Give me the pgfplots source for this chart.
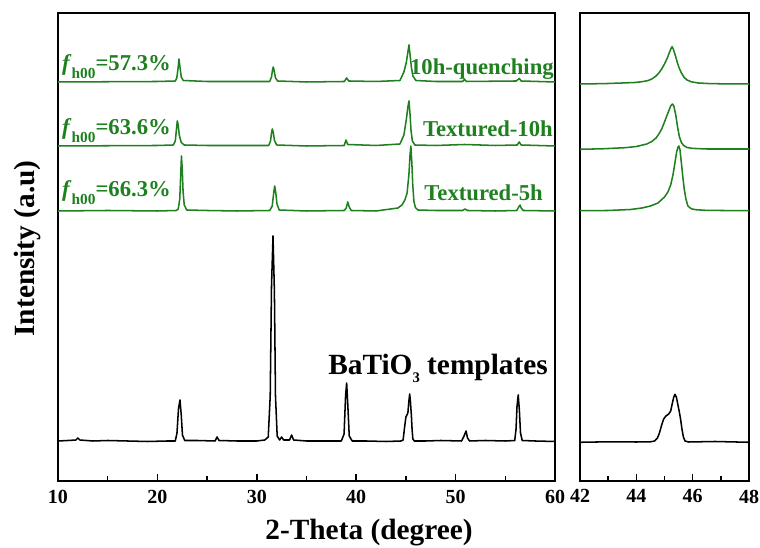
\documentclass[border=0pt]{standalone}
\usepackage{fontspec}
\setmainfont{Liberation Serif}
\usepackage{pgfplots}
\usepackage{pgfplotstable}
\pgfplotsset{compat=1.18}
\definecolor{xgreen}{RGB}{30,128,30}

% ---------- left panel data ----------
\pgfplotstableread{
x y
10.0 40
11.0 40.5
11.8 41
12.0 43
12.2 41
13.5 40
15 40.5
17 40
19 39.5
21.0 40
21.8 40
21.97 48
22.12 72
22.27 81
22.4 66
22.52 46
22.75 40.5
24.0 40.5
25.8 40
26.0 44
26.2 40.5
28 40
30 40
30.8 41
31.15 44
31.35 85
31.48 195
31.63 245
31.77 190
31.88 85
32.05 45
32.3 41
32.5 44
32.7 41
33.3 41
33.5 46
33.7 41
35 40
37 40
38.5 40
38.78 47
38.93 85
39.04 98
39.16 75
39.3 45
39.6 40
41 40
43 39.5
44.5 40
44.72 41
44.87 54
45.0 64
45.2 68
45.3 80
45.38 87
45.45 80
45.55 66
45.62 52
45.7 42
45.85 40
47 40
48.5 40.5
50.6 40
50.85 45
51.05 50
51.2 43
51.4 40
53 40.5
55 40
55.95 40.5
56.08 52
56.18 75
56.3 86
56.42 70
56.53 48
56.7 40.5
58 40
60 39.5
}\tmplL

\pgfplotstableread{
x y
10 270
15 270.5
20 270
21.9 270.5
22.1 272
22.25 282
22.34 305
22.42 325
22.5 312
22.58 290
22.7 276
22.95 271
25 270.5
28 270
31.3 270.5
31.55 275
31.7 288
31.8 295
31.9 289
32.03 277
32.25 271
35 270
38.8 270.5
39.0 273
39.15 279
39.3 274
39.5 270.5
42 270
44.2 273
44.6 276
44.9 281
45.12 288
45.3 306
45.42 327
45.5 335
45.6 318
45.68 298
45.8 280
45.95 273.5
46.2 271
48 270.5
50.7 270.5
50.95 272
51.2 270.5
54 270
56.15 270.5
56.35 274
56.48 276
56.6 273
56.8 270.5
60 270
}\fiveL

\pgfplotstableread{
x y
10 335
20 335.5
21.6 336
21.8 340
21.92 352
22.0 360
22.08 357
22.2 346
22.4 338.5
22.7 336
25 335.5
31.2 335.5
31.38 340
31.48 348
31.56 352
31.65 349
31.78 340.5
32.0 336
35 335
38.8 335.5
38.97 341
39.15 336.5
42 335.5
44.4 337
44.8 346
45.05 362
45.2 374
45.31 380
45.42 366
45.52 350
45.65 340
45.9 336
48 335.5
50.9 336.5
54 335.5
56.2 336
56.4 339
56.6 336
60 335
}\tenL

\pgfplotstableread{
x y
10 399
20 399.5
21.8 400
21.95 403
22.07 412
22.17 422
22.27 414
22.4 404
22.6 400.5
25 399.5
31.3 399.5
31.48 404
31.58 411
31.66 414
31.75 410
31.88 403
32.1 400
35 399
38.8 399.5
39.04 403
39.25 400
42 399.5
44.4 400.5
44.8 409
45.05 419
45.2 429
45.31 436
45.42 426
45.55 414
45.7 405
46.0 400.5
48 399.5
50.7 399.5
50.9 401.5
51.1 399.5
56.1 400
56.4 402.5
56.6 400
60 399
}\quenchL

% ---------- right panel data ----------
\pgfplotstableread{
x y
42 38.7
43 39.2
44 39
44.5 39.2
44.65 40
44.75 43
44.82 48
44.9 56
44.97 62
45.05 65
45.15 67
45.22 70
45.28 78
45.33 84
45.37 86.7
45.42 84
45.47 77
45.52 70
45.57 62
45.62 52
45.67 44
45.73 40
45.85 39
46.8 39.5
48 38.7
}\tmplR

\pgfplotstableread{
x y
42 270.3
43 270.5
43.8 271.5
44.2 273
44.5 275
44.77 278
45.0 284
45.12 289
45.22 296
45.3 306
45.37 318
45.43 329
45.48 334
45.51 335
45.55 331
45.6 318
45.65 304.3
45.7 292
45.76 282
45.83 275
45.95 272.2
46.1 271.3
46.5 270.6
48 270.3
}\fiveR

\pgfplotstableread{
x y
42 331.7
42.8 332.2
43.6 333.3
44.0 334.5
44.37 337
44.55 339.5
44.7 343
44.8 347
44.9 352
45.0 359
45.07 364.3
45.15 370
45.22 375
45.28 377
45.33 375
45.4 366
45.47 353
45.53 344
45.6 338.5
45.68 335.5
45.8 333.5
46.0 332.6
46.5 332
48 332
}\tenR

\pgfplotstableread{
x y
42 397
42.5 397.2
43 397.5
43.5 398
43.95 398.5
44.2 399.3
44.4 400.3
44.55 402
44.7 405
44.8 408
44.9 412
45.0 417
45.1 423
45.18 429
45.24 433
45.27 434.3
45.31 432
45.38 426
45.45 419
45.52 413
45.6 408
45.7 403.5
45.8 401
45.95 399.2
46.2 398
46.6 397.4
47 397.2
48 397
}\quenchR

\begin{document}
\begin{tikzpicture}
\useasboundingbox (-43.5pt,-50.25pt) rectangle (526.5pt,360.75pt);
\pgfplotsset{
  every axis/.append style={
    scale only axis, ymin=0, ymax=468, height=351pt,
    axis line style={line width=1.5pt},
    ytick=\empty,
    xtick pos=lower, tick align=inside,
    major tick length=5.25pt, minor tick length=3.75pt,
    every tick/.style={black, line width=1.2pt},
    tick label style={font=\fontsize{15}{16}\selectfont\bfseries},
    /pgf/number format/assume math mode=true,
    xticklabel style={yshift=-3pt},
  },
  curve/.style={line width=1.15pt, no markers, line join=round},
}
\begin{axis}[at={(0pt,0pt)}, anchor=south west,
  width=372.75pt, xmin=10, xmax=60,
  xtick={10,20,30,40,50,60}, minor xtick={15,25,35,45,55}]
\addplot[curve, black] table {\tmplL};
\addplot[curve, xgreen] table {\fiveL};
\addplot[curve, xgreen] table {\tenL};
\addplot[curve, xgreen] table {\quenchL};
\node[anchor=base west, text=xgreen, font=\fontsize{17}{18}\selectfont\bfseries, inner sep=0pt]
  at (axis cs:10.4,410) {\textit{f}\raisebox{-6pt}{\fontsize{11.5}{12}\selectfont h00}=57.3\%};
\node[anchor=base west, text=xgreen, font=\fontsize{17}{18}\selectfont\bfseries, inner sep=0pt]
  at (axis cs:10.4,346) {\textit{f}\raisebox{-6pt}{\fontsize{11.5}{12}\selectfont h00}=63.6\%};
\node[anchor=base west, text=xgreen, font=\fontsize{17}{18}\selectfont\bfseries, inner sep=0pt]
  at (axis cs:10.4,284) {\textit{f}\raisebox{-6pt}{\fontsize{11.5}{12}\selectfont h00}=66.3\%};
\node[anchor=base east, text=xgreen, font=\fontsize{17}{18}\selectfont\bfseries, inner sep=0pt]
  at (axis cs:59.9,406) {10h-quenching};
\node[anchor=base east, text=xgreen, font=\fontsize{17}{18}\selectfont\bfseries, inner sep=0pt]
  at (axis cs:59.8,344) {Textured-10h};
\node[anchor=base east, text=xgreen, font=\fontsize{17}{18}\selectfont\bfseries, inner sep=0pt]
  at (axis cs:58.8,280) {Textured-5h};
\node[anchor=base east, font=\fontsize{22}{24}\selectfont\bfseries, inner sep=0pt]
  at (axis cs:59.3,106) {BaTiO\raisebox{-6pt}{\fontsize{11}{11}\selectfont 3} templates};
\end{axis}
\begin{axis}[at={(391.5pt,0pt)}, anchor=south west,
  width=126.75pt, xmin=42, xmax=48,
  xtick={42,44,46,48}, minor xtick={43,45,47}]
\addplot[curve, black] table {\tmplR};
\addplot[curve, xgreen] table {\fiveR};
\addplot[curve, xgreen] table {\tenR};
\addplot[curve, xgreen] table {\quenchR};
\end{axis}
\node[anchor=base, font=\fontsize{22}{24}\selectfont\bfseries, inner sep=0pt] at (233.25pt,-44.25pt) {2-Theta (degree)};
\node[anchor=base, rotate=90, font=\fontsize{22}{24}\selectfont\bfseries, inner sep=0pt] at (-17.25pt,174.4pt) {Intensity (a.u)};
\end{tikzpicture}
\end{document}
